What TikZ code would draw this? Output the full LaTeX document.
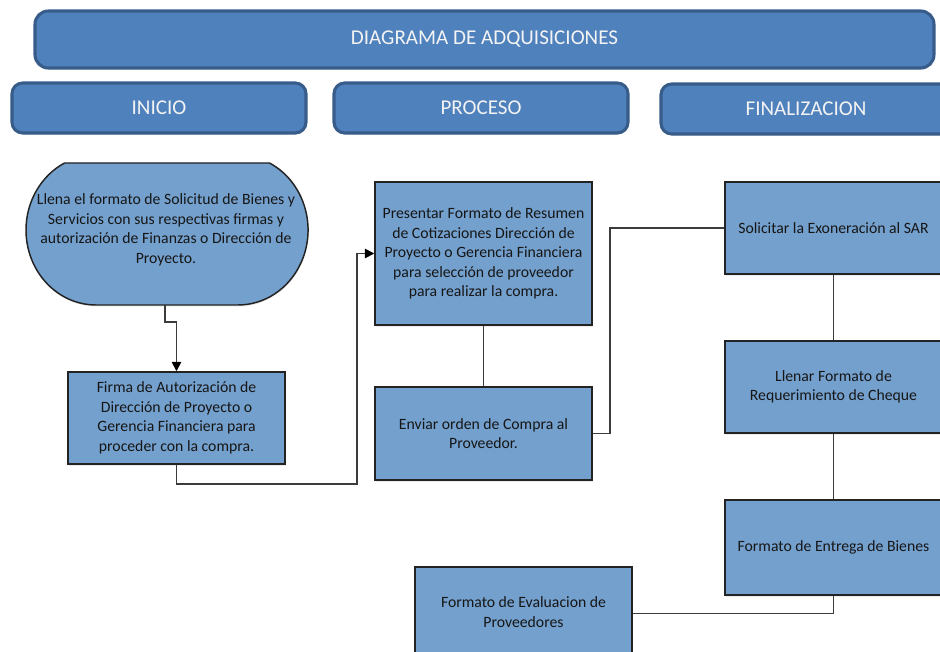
\documentclass[tikz,border=0pt]{standalone}
\usepackage{fontspec}
\setmainfont{Carlito}
\usetikzlibrary{arrows.meta,calc,shadows}

\definecolor{hdrfill}{RGB}{79,129,189}
\definecolor{hdrline}{RGB}{56,92,137}
\definecolor{boxfill}{RGB}{116,160,205}
\definecolor{boxline}{RGB}{35,35,35}
\definecolor{wireclr}{RGB}{60,60,60}
\definecolor{txtclr}{RGB}{22,22,22}
\definecolor{hdrtext}{RGB}{243,243,243}

\tikzset{
  % place a box by its left, top, right and bottom edges (pixel grid, y down)
  span/.style n args={4}{minimum width={(#3-#1)*0.75pt}, minimum height={(#4-#2)*0.75pt},
    at={({(#1+#3)/2},{-(#2+#4)/2})}},
  hdr/.style={draw=hdrline, line width=2.3pt, fill=hdrfill, rounded corners=#1,
    text=hdrtext, font=\fontsize{15.8}{18}\selectfont, inner sep=0pt,
    drop shadow={opacity=0.18, shadow xshift=0.4pt, shadow yshift=-1.2pt}},
  hdr/.default=8pt,
  stepbox/.style={draw=boxline, line width=1.1pt, fill=boxfill, text=txtclr,
    font=\fontsize{11.8}{14.6}\selectfont, align=center, inner sep=0pt,
    drop shadow={opacity=0.15, shadow xshift=0.4pt, shadow yshift=-1.2pt}},
  steptext/.style={text=txtclr, font=\fontsize{11.8}{14.6}\selectfont, align=center},
  wire/.style={draw=wireclr, line width=1.3pt},
  arr/.style={wire, -{Triangle[width=7pt,length=7pt,black]}}
}

\begin{document}
\begin{tikzpicture}[x=0.75pt,y=0.75pt]
\clip (0,0) rectangle (940,-652);
\fill[white] (0,0) rectangle (940,-652);

% title and column headers
\node[hdr=10pt, span={35}{11}{934}{68}] (title) {DIAGRAMA DE ADQUISICIONES};
\node[hdr, span={12}{83}{306}{133}] (inicio) {INICIO};
\node[hdr, span={334}{83}{628}{133}] (proceso) {PROCESO};
\node[hdr, span={661}{84}{951}{134}] (final) {FINALIZACION};

% start terminator, its top cut flat
\path[fill=boxfill, draw=boxline, line width=1.1pt,
  drop shadow={opacity=0.15, shadow xshift=0.4pt, shadow yshift=-1.2pt}]
  (64.56,-163) -- (269.5,-163)
  arc[start angle=63.3, end angle=-90, x radius=52.5pt, y radius=56.25pt]
  -- (96,-305)
  arc[start angle=270, end angle=116.7, x radius=52.5pt, y radius=56.25pt]
  -- cycle;
\node[steptext] (llena) at (166,-230)
  {Llena el formato de Solicitud de Bienes y\\Servicios con sus respectivas firmas y\\autorización de Finanzas o Dirección de\\Proyecto.};
\coordinate (llenaS) at (165,-305);

% process steps
\node[stepbox, span={68}{372}{285}{464}] (firma)
  {Firma de Autorización de\\Dirección de Proyecto o\\Gerencia Financiera para\\proceder con la compra.};
\node[stepbox, span={375}{182}{592}{325}] (presentar)
  {Presentar Formato de Resumen\\de Cotizaciones Dirección de\\Proyecto o Gerencia Financiera\\para selección de proveedor\\para realizar la compra.};
\node[stepbox, span={375}{387}{592}{480}] (enviar)
  {Enviar orden de Compra al\\Proveedor.};
\node[stepbox, span={725}{182}{942}{274}] (solicitar)
  {Solicitar la Exoneración al SAR};
\node[stepbox, span={725}{341}{942}{433}] (llenar)
  {Llenar Formato de\\Requerimiento de Cheque};
\node[stepbox, span={725}{500}{942}{595}] (entrega)
  {Formato de Entrega de Bienes};
\node[stepbox, span={415}{567}{632}{660}] (evaluacion)
  {\raisebox{2.8pt}{\begin{tabular}{@{}c@{}}Formato de Evaluacion de\\Proveedores\end{tabular}}};

% connectors
\coordinate (jog1) at (165,-322);
\coordinate (low2) at (357,-484);
\coordinate (rise4) at (610,0);
\draw[arr] (llenaS) -- (jog1) -| (firma.north);
\draw[arr] (firma.south) |- (low2) |- (presentar.west);
\draw[wire] (presentar.south) -- (enviar.north);
\draw[wire] (enviar.east) -- (enviar.east -| rise4) |- (solicitar.west);
\draw[wire] (solicitar.south) -- (llenar.north);
\draw[wire] (llenar.south) -- (entrega.north);
\draw[wire] (entrega.south) |- (evaluacion.east);
\end{tikzpicture}
\end{document}
